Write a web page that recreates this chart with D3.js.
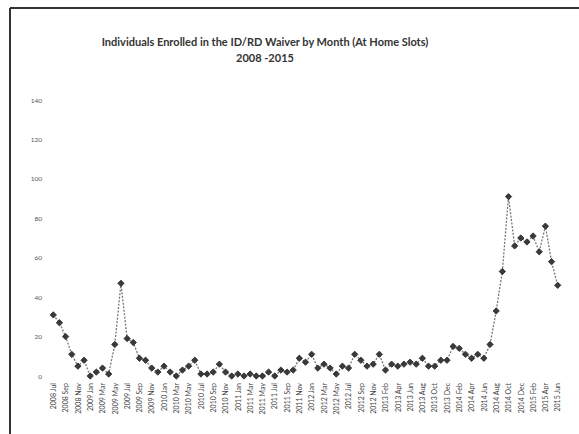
<!DOCTYPE html>
<html>
<head>
<meta charset="utf-8">
<script src="https://cdn.jsdelivr.net/npm/d3@7"></script>
<style>
  html, body { margin: 0; padding: 0; background: #fff; }
  svg { display: block; }
</style>
</head>
<body>
<svg id="chart" width="579" height="434"></svg>
<script>
// Monthly enrollment (At Home slots), July 2008 through June 2015
const months = [
  "2008 Jul","2008 Aug","2008 Sep","2008 Oct","2008 Nov","2008 Dec",
  "2009 Jan","2009 Feb","2009 Mar","2009 Apr","2009 May","2009 Jun",
  "2009 Jul","2009 Aug","2009 Sep","2009 Oct","2009 Nov","2009 Dec",
  "2010 Jan","2010 Feb","2010 Mar","2010 Apr","2010 May","2010 Jun",
  "2010 Jul","2010 Aug","2010 Sep","2010 Oct","2010 Nov","2010 Dec",
  "2011 Jan","2011 Feb","2011 Mar","2011 Apr","2011 May","2011 Jun",
  "2011 Jul","2011 Aug","2011 Sep","2011 Oct","2011 Nov","2011 Dec",
  "2012 Jan","2012 Feb","2012 Mar","2012 Apr","2012 May","2012 Jun",
  "2012 Jul","2012 Aug","2012 Sep","2012 Oct","2012 Nov","2012 Dec",
  "2013 Feb","2013 Mar","2013 Apr","2013 May","2013 Jun","2013 Jul",
  "2013 Aug","2013 Sep","2013 Oct","2013 Nov","2013 Dec","2014 Jan",
  "2014 Feb","2014 Mar","2014 Apr","2014 May","2014 Jun","2014 Jul",
  "2014 Aug","2014 Sep","2014 Oct","2014 Nov","2014 Dec","2015 Jan",
  "2015 Feb","2015 Mar","2015 Apr","2015 May","2015 Jun"
];
const enrolled = [
  31, 27, 20, 11, 5, 8,
  0, 2, 4, 1, 16, 47,
  19, 17, 9, 8, 4, 2,
  5, 2, 0, 3, 5, 8,
  1, 1, 2, 6, 2, 0,
  1, 0, 1, 0, 0, 2,
  0, 3, 2, 3, 9, 7,
  11, 4, 6, 4, 1, 5,
  4, 11, 8, 5, 6, 11,
  3, 6, 5, 6, 7, 6,
  9, 5, 5, 8, 8, 15,
  14, 11, 9, 11, 9, 16,
  33, 53, 91, 66, 70, 68,
  71, 63, 76, 58, 46
];
const yTicks = [0, 20, 40, 60, 80, 100, 120, 140];
const titleLines = [
  "Individuals Enrolled in the ID/RD Waiver by Month (At Home Slots)",
  "2008 -2015"
];

const svg = d3.select("#chart");
const data = months.map((m, i) => ({ month: m, value: enrolled[i] }));

// Chart frame (top and left edges)
svg.append("line").attr("x1", 10).attr("y1", 8).attr("x2", 579).attr("y2", 8)
  .attr("stroke", "#333").attr("stroke-width", 2);
svg.append("line").attr("x1", 10).attr("y1", 8).attr("x2", 10).attr("y2", 434)
  .attr("stroke", "#333").attr("stroke-width", 2);

// Title
svg.append("g").selectAll("text").data(titleLines).join("text")
  .attr("x", 265)
  .attr("y", (d, i) => 46 + i * 16)
  .attr("text-anchor", "middle")
  .attr("font-family", "Lato, 'Open Sans', sans-serif")
  .attr("font-weight", "bold")
  .attr("font-size", 11)
  .attr("fill", "#333")
  .text(d => d);

// Scales
const x = d3.scalePoint().domain(months).range([53.3, 557.7]);
const y = d3.scaleLinear().domain([0, 140]).range([376, 100]);

// Y axis labels (no axis line, no ticks)
const yAxis = svg.append("g")
  .attr("transform", "translate(42,0)")
  .call(d3.axisLeft(y).tickValues(yTicks).tickSize(0).tickPadding(0));
yAxis.select(".domain").remove();
yAxis.selectAll("text")
  .attr("font-family", "Lato, sans-serif")
  .attr("font-size", 6.5)
  .attr("fill", "#555");

// X axis labels, every other month, rotated
const xAxis = svg.append("g")
  .attr("transform", "translate(0,381)")
  .call(d3.axisBottom(x)
    .tickValues(months.filter((m, i) => i % 2 === 0))
    .tickSize(0).tickPadding(0));
xAxis.select(".domain").remove();
xAxis.selectAll("text")
  .attr("font-family", "Lato, sans-serif")
  .attr("font-size", 7)
  .attr("fill", "#444")
  .attr("text-anchor", "end")
  .attr("dy", "0.32em")
  .attr("transform", "rotate(-90)")
  .attr("x", -2)
  .attr("y", 0);

// Series line
const line = d3.line().x(d => x(d.month)).y(d => y(d.value));
svg.append("path")
  .datum(data)
  .attr("d", line)
  .attr("fill", "none")
  .attr("stroke", "#777")
  .attr("stroke-width", 1.3)
  .attr("stroke-dasharray", "2,1.5");

// Diamond markers
const diamond = d3.symbol().type(d3.symbolSquare).size(20);
svg.append("g").selectAll("path").data(data).join("path")
  .attr("d", diamond)
  .attr("transform", d => `translate(${x(d.month)},${y(d.value)}) rotate(45)`)
  .attr("fill", "#3a3a3a")
  .attr("stroke", "#2a2a2a")
  .attr("stroke-width", 0.8);
</script>
</body>
</html>
